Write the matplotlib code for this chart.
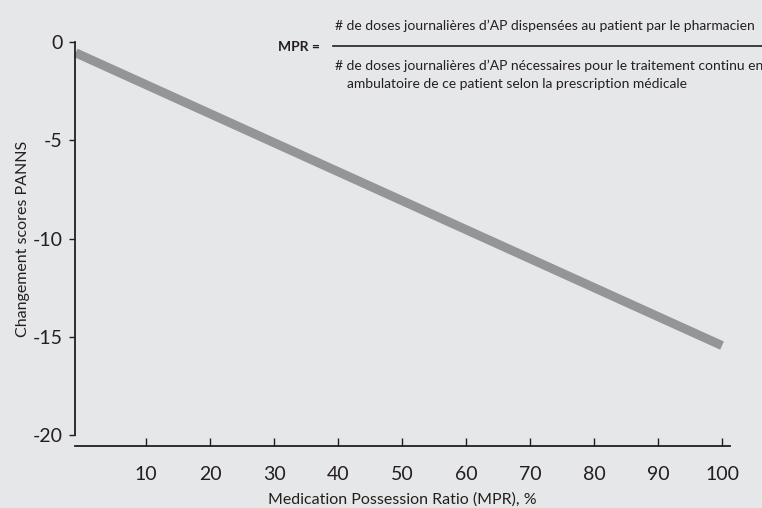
import matplotlib.pyplot as plt

# Données
mpr_x = [-1, 100]
panns_y = [-0.55, -15.45]
x_ticks = [10, 20, 30, 40, 50, 60, 70, 80, 90, 100]
y_ticks = [0, -5, -10, -15, -20]

BG = "#e6e7e8"
INK = "#231f20"
LINE = "#939598"

plt.rcParams["font.family"] = ["Lato", "DejaVu Sans"]

fig = plt.figure(figsize=(7.62, 5.08), dpi=100, facecolor=BG)
ax = fig.add_axes([75 / 762, 1 - 435 / 508, 654.7 / 762, 393 / 508])
ax.set_facecolor(BG)

ax.plot(mpr_x, panns_y, color=LINE, linewidth=6.5, solid_capstyle="butt", clip_on=False)

ax.set_xlim(-1.1, 101.2)
ax.set_ylim(-20, 0)

for s in ["top", "right"]:
    ax.spines[s].set_visible(False)
ax.spines["left"].set_color(INK)
ax.spines["bottom"].set_color(INK)
ax.spines["left"].set_linewidth(1.3)
ax.spines["bottom"].set_linewidth(1.3)
ax.spines["bottom"].set_position(("outward", 8))

ax.set_xticks(x_ticks)
ax.set_xticklabels([str(v) for v in x_ticks])
ax.set_yticks(y_ticks)
ax.set_yticklabels([str(v) for v in y_ticks])
ax.tick_params(axis="x", direction="in", length=6, width=1, color=INK,
               labelsize=14, labelcolor=INK, pad=14)
ax.tick_params(axis="y", direction="out", length=4, width=1, color=INK,
               labelsize=14, labelcolor=INK, pad=5)

ax.set_xlabel("Medication Possession Ratio (MPR), %", fontsize=11.5, color=INK, labelpad=7)
ax.set_ylabel("Changement scores PANNS", fontsize=11.5, color=INK, labelpad=2)

# Formule MPR
fig.text(320 / 762, 1 - 47 / 508, "MPR =", fontsize=10, fontweight="bold",
         color=INK, ha="right", va="center")
fig.add_artist(plt.Line2D([333 / 762, 1.0], [1 - 46 / 508, 1 - 46 / 508],
                          color=INK, linewidth=1.2))
fig.text(335 / 762, 1 - 26 / 508,
         "# de doses journalières d\u2019AP dispensées au patient par le pharmacien",
         fontsize=10, color=INK, ha="left", va="center")
fig.text(335 / 762, 1 - 66 / 508,
         "# de doses journalières d\u2019AP nécessaires pour le traitement continu en",
         fontsize=10, color=INK, ha="left", va="center")
fig.text(347 / 762, 1 - 84 / 508,
         "ambulatoire de ce patient selon la prescription médicale",
         fontsize=10, color=INK, ha="left", va="center")

fig.savefig("out.png", dpi=100, facecolor=BG)
